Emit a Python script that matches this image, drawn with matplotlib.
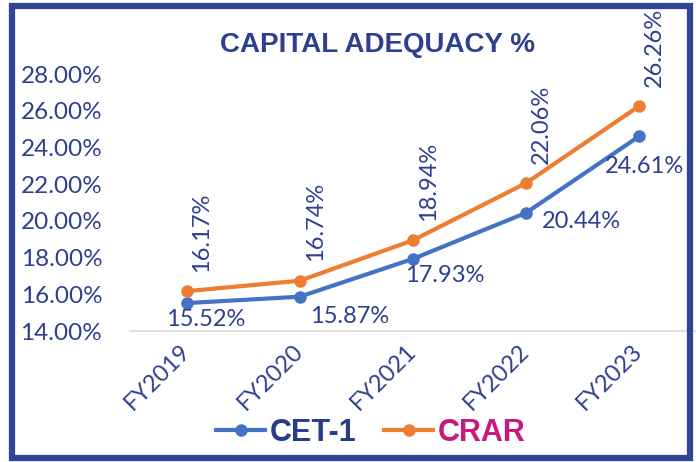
import matplotlib.pyplot as plt
from matplotlib.patches import Rectangle

# data
years = ["FY2019", "FY2020", "FY2021", "FY2022", "FY2023"]
cet1 = [15.52, 15.87, 17.93, 20.44, 24.61]
crar = [16.17, 16.74, 18.94, 22.06, 26.26]

NAVY = "#2E3F8F"
BLUE = "#4472C4"
ORANGE = "#ED7D31"
MAGENTA = "#C8197F"
LABEL_FONT = "Lato"

fig = plt.figure(figsize=(6.96, 4.62), dpi=100)
ax = fig.add_axes([0.1868, 0.2835, 0.813, 0.5563])

x = list(range(len(years)))
ax.plot(x, cet1, color=BLUE, lw=3, marker="o", ms=8, label="CET-1", zorder=3)
ax.plot(x, crar, color=ORANGE, lw=3, marker="o", ms=8, label="CRAR", zorder=3)

ax.set_xlim(-0.5, 4.5)
ax.set_ylim(14, 28)
ax.set_yticks(range(14, 29, 2))
ax.set_yticklabels([f"{v:.2f}%" for v in range(14, 29, 2)],
                   fontsize=17.5, color=NAVY, family=LABEL_FONT)
ax.set_xticks(x)
ax.set_xticklabels(years, rotation=45, ha="right", va="center",
                   rotation_mode="anchor", fontsize=17, color=NAVY,
                   family=LABEL_FONT)
ax.tick_params(axis="y", length=0, pad=20)
ax.tick_params(axis="x", length=0, pad=12)

for s in ["top", "right", "left"]:
    ax.spines[s].set_visible(False)
ax.spines["bottom"].set_color("#D9D9D9")
ax.spines["bottom"].set_linewidth(1.2)

# CET-1 labels below (offsets tuned by eye)
cet_off = [(14, -12), (36, -14), (23, -12), (40, -6), (4, -22)]
for i, v in enumerate(cet1):
    ax.annotate(f"{v:.2f}%", (i, v), xytext=cet_off[i], textcoords="offset points",
                ha="center", va="center", fontsize=17, color=NAVY,
                family=LABEL_FONT, clip_on=False)

# CRAR labels rotated above
for i, v in enumerate(crar):
    ax.annotate(f"{v:.2f}%", (i, v), xytext=(11, 14), textcoords="offset points",
                ha="center", va="bottom", rotation=90, fontsize=17, color=NAVY,
                family=LABEL_FONT, clip_on=False, annotation_clip=False)

fig.text(0.543, 0.903, "CAPITAL ADEQUACY %", ha="center", va="center",
         fontsize=20, fontweight="bold", color=NAVY, family="Liberation Sans")

leg = fig.legend(loc="center", bbox_to_anchor=(0.533, 0.063), ncol=2, frameon=False,
                 prop={"family": "Liberation Sans", "weight": "bold", "size": 22},
                 handlelength=1.6, handletextpad=0.15, columnspacing=0.9)
for t, c in zip(leg.get_texts(), ["#283C8C", MAGENTA]):
    t.set_color(c)

# outer frame
fig.patches.append(Rectangle((12 / 696, 1 - 458 / 462), 678 / 696, 452 / 462,
                             transform=fig.transFigure, fill=False,
                             edgecolor="#2E4596", lw=4.5, zorder=10))

fig.savefig("out.png", dpi=100)
